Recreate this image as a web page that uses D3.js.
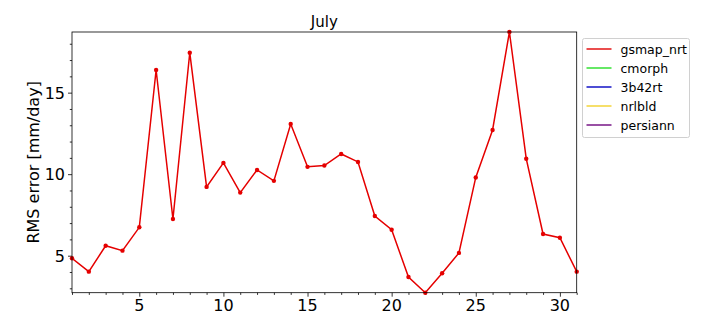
<!DOCTYPE html>
<html>
<head>
<meta charset="utf-8">
<script src="https://cdn.jsdelivr.net/npm/d3@7"></script>
<style>
  html, body { margin: 0; padding: 0; background: #fff; overflow: hidden; }
  svg { display: block; }
  svg text { font-family: "DejaVu Sans", sans-serif; }
</style>
</head>
<body>
<svg width="720" height="324"></svg>
<script>
// values
const days = d3.range(1, 32);
const gsmapNrt = [4.84, 4.02, 5.61, 5.31, 6.74, 16.39, 7.25, 17.45, 9.22, 10.69,
  8.87, 10.26, 9.59, 13.08, 10.45, 10.53, 11.24, 10.75, 7.43, 6.59,
  3.69, 2.73, 3.92, 5.17, 9.80, 12.71, 18.72, 10.95, 6.33, 6.10, 4.02];
const seriesNames = ["gsmap_nrt", "cmorph", "3b42rt", "nrlbld", "persiann"];
const seriesColors = ["#e8393a", "#55e655", "#3a3ad0", "#f5dc5a", "#8e3d9a"];
const yTicks = [5, 10, 15];
const xTicks = [5, 10, 15, 20, 25, 30];

const svg = d3.select("svg");
const margin = { top: 32, left: 72, right: 143.3, bottom: 31.3 };
const width = +svg.attr("width");
const height = +svg.attr("height");
const innerWidth = width - margin.left - margin.right;
const innerHeight = height - margin.top - margin.bottom;

// scales in page coordinates
const x = d3.scaleLinear().domain([1, 31]).range([margin.left, margin.left + innerWidth]);
const y = d3.scaleLinear().domain(d3.extent(gsmapNrt)).range([margin.top + innerHeight, margin.top]);

svg.append("defs").append("clipPath").attr("id", "clip")
  .append("rect").attr("x", margin.left).attr("y", margin.top)
  .attr("width", innerWidth).attr("height", innerHeight);

// tick marks (labels are drawn below as plain texts)
const axes = svg.append("g");
axes.append("g").attr("transform", `translate(0,${margin.top + innerHeight})`)
  .call(d3.axisBottom(x).tickValues(xTicks).tickSize(4).tickFormat(""));
axes.append("g").attr("transform", `translate(0,${margin.top + innerHeight})`)
  .call(d3.axisBottom(x).tickValues(days.filter(d => d % 5 !== 0)).tickSize(2.2).tickFormat(""));
axes.append("g").attr("transform", `translate(${margin.left},0)`)
  .call(d3.axisLeft(y).tickValues(yTicks).tickSize(4).tickFormat(""));
axes.append("g").attr("transform", `translate(${margin.left},0)`)
  .call(d3.axisLeft(y).tickValues(d3.range(3, 19).filter(d => d % 5 !== 0)).tickSize(2.2).tickFormat(""));
axes.selectAll("text").remove();
axes.selectAll(".domain").remove();
axes.selectAll(".tick line").attr("stroke", "#000").attr("stroke-width", 0.8);

svg.append("g").selectAll("text").data(xTicks).enter().append("text")
  .attr("x", d => x(d)).attr("y", 311)
  .attr("text-anchor", "middle").attr("font-size", 16).attr("fill", "#000")
  .text(d => d);
svg.append("g").selectAll("text").data(yTicks).enter().append("text")
  .attr("x", margin.left - 7).attr("y", d => y(d) + 6)
  .attr("text-anchor", "end").attr("font-size", 16).attr("fill", "#000")
  .text(d => d);

// data line
const line = d3.line().x((d, i) => x(days[i])).y(d => y(d));
svg.append("path").datum(gsmapNrt).attr("clip-path", "url(#clip)")
  .attr("d", line).attr("fill", "none").attr("stroke", "#e50000").attr("stroke-width", 1.5);
svg.append("g").selectAll("circle").data(gsmapNrt).enter().append("circle")
  .attr("cx", (d, i) => x(days[i])).attr("cy", d => y(d)).attr("r", 2.2)
  .attr("fill", "#e50000");

// frame
svg.append("rect").attr("x", margin.left).attr("y", margin.top)
  .attr("width", innerWidth).attr("height", innerHeight)
  .attr("fill", "none").attr("stroke", "#000").attr("stroke-width", 0.8);

// title and axis label
svg.append("text").attr("x", margin.left + innerWidth / 2).attr("y", 27)
  .attr("text-anchor", "middle").attr("font-size", 15).text("July");
svg.append("text")
  .attr("x", -(margin.top + innerHeight / 2)).attr("y", 39)
  .attr("transform", "rotate(-90)")
  .attr("text-anchor", "middle").attr("font-size", 16).text("RMS error [mm/day]");

// legend
const lgX = 582.5, lgY = 38.5;
svg.append("rect").attr("x", lgX).attr("y", lgY).attr("width", 107).attr("height", 99).attr("rx", 2)
  .attr("fill", "#fff").attr("stroke", "#d0d0d0").attr("stroke-width", 1);
svg.append("g").selectAll("line").data(seriesNames).enter().append("line")
  .attr("x1", lgX + 4).attr("x2", lgX + 29)
  .attr("y1", (d, i) => lgY + 10.5 + i * 19).attr("y2", (d, i) => lgY + 10.5 + i * 19)
  .attr("stroke", (d, i) => seriesColors[i]).attr("stroke-width", 1.8);
svg.append("g").selectAll("text").data(seriesNames).enter().append("text")
  .attr("x", lgX + 38).attr("y", (d, i) => lgY + 15 + i * 19)
  .attr("font-size", 12.5).attr("fill", "#000").text(d => d);
</script>
</body>
</html>
